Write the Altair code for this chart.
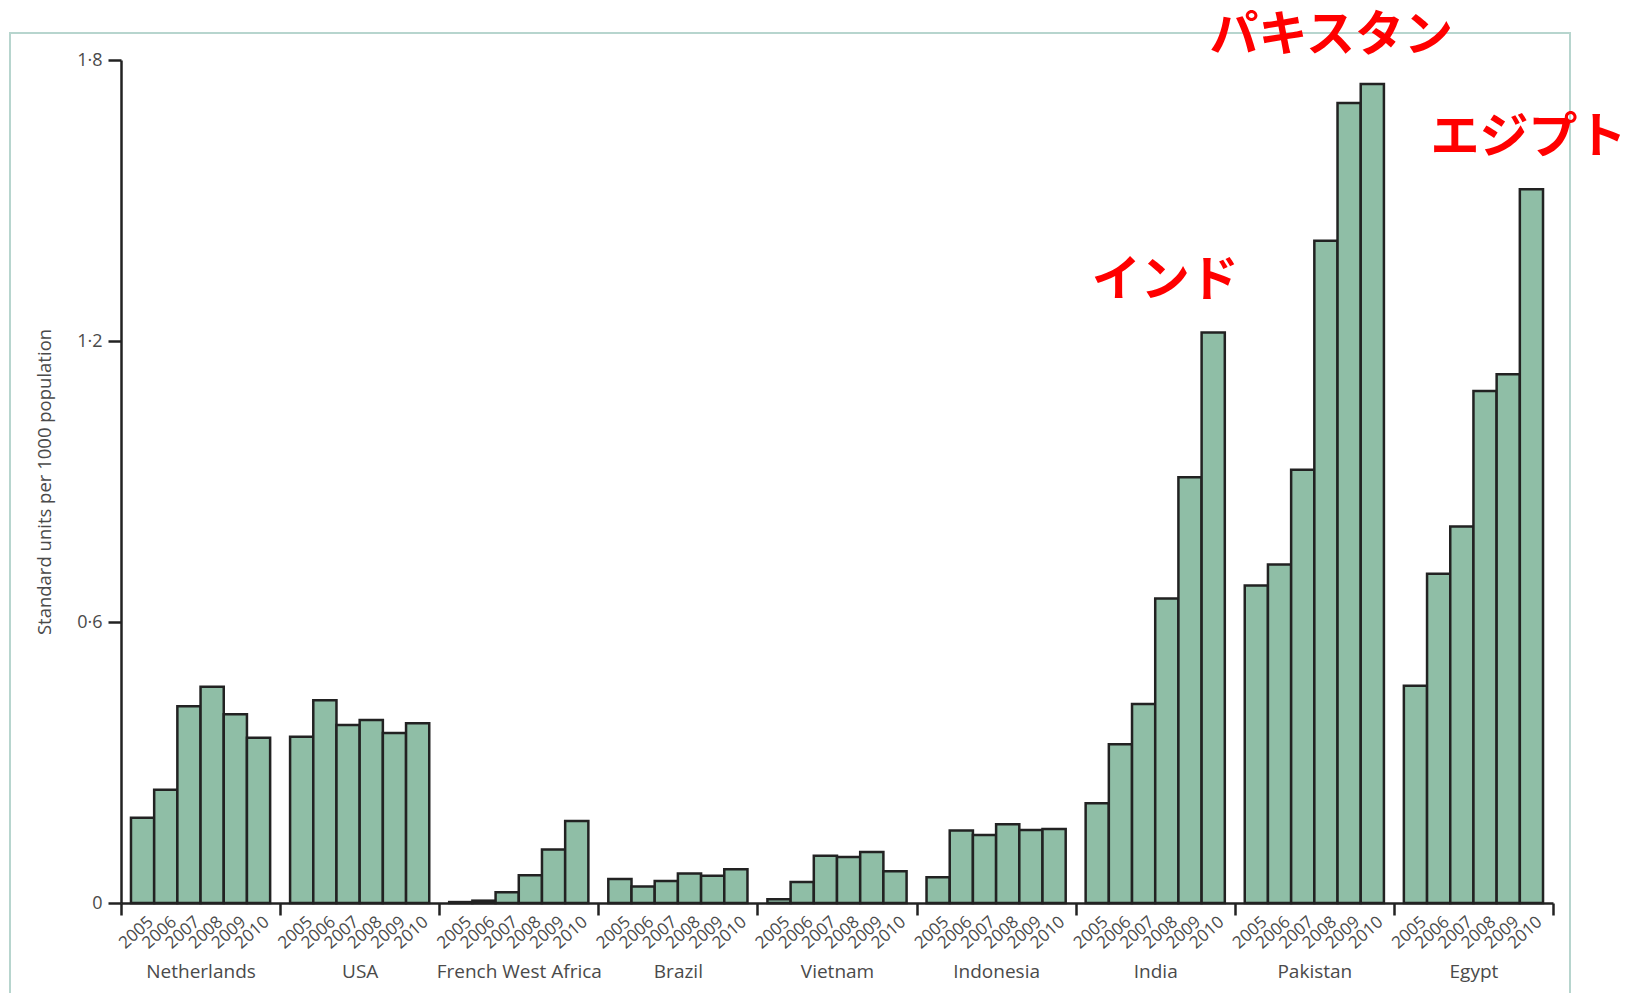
import altair as alt
import pandas as pd

# Antimicrobial consumption, standard units per 1000 population, 2005-2010
countries = ["Netherlands", "USA", "French West Africa", "Brazil", "Vietnam",
             "Indonesia", "India", "Pakistan", "Egypt"]
years = ["2005", "2006", "2007", "2008", "2009", "2010"]

netherlands = [0.182, 0.242, 0.420, 0.462, 0.403, 0.353]
usa = [0.355, 0.433, 0.380, 0.391, 0.363, 0.384]
french_west_africa = [0.002, 0.005, 0.023, 0.059, 0.114, 0.175]
brazil = [0.051, 0.035, 0.047, 0.063, 0.058, 0.072]
vietnam = [0.008, 0.045, 0.101, 0.098, 0.109, 0.068]
indonesia = [0.055, 0.155, 0.145, 0.168, 0.156, 0.158]
india = [0.213, 0.339, 0.425, 0.650, 0.909, 1.218]
pakistan = [0.678, 0.723, 0.925, 1.414, 1.708, 1.749]
egypt = [0.464, 0.703, 0.804, 1.093, 1.129, 1.524]

series = [netherlands, usa, french_west_africa, brazil, vietnam,
          indonesia, india, pakistan, egypt]

# Highlighted countries and their Japanese names
highlight_countries = ["India", "Pakistan", "Egypt"]
highlight_names = ["インド", "パキスタン", "エジプト"]

rows = []
for country, vals in zip(countries, series):
    for year, v in zip(years, vals):
        rows.append({"country": country, "year": year, "value": v})
df = pd.DataFrame(rows)

FONT = "Open Sans"
INK = "#222222"
TEXT = "#4a4a4a"
W, H = 1432, 843

x_enc = alt.X(
    "country:N", sort=countries,
    scale=alt.Scale(paddingInner=0, paddingOuter=0),
    axis=alt.Axis(
        title=None, labelAngle=0, tickBand="extent", tickSize=12,
        tickWidth=2.5, tickColor=INK, domainColor=INK, domainWidth=2.5,
        labelPadding=47, labelFont=FONT, labelFontSize=19, labelColor=TEXT,
    ),
)
xoff_enc = alt.XOffset(
    "year:N", sort=years,
    scale=alt.Scale(paddingInner=0, paddingOuter=0.43),
)

bars = alt.Chart(df).mark_bar(
    fill="#8FBEA6", stroke=INK, strokeWidth=2.5
).encode(
    x=x_enc,
    xOffset=xoff_enc,
    y=alt.Y(
        "value:Q",
        scale=alt.Scale(domain=[0, 1.8], nice=False, zero=True),
        axis=alt.Axis(
            values=[0, 0.6, 1.2, 1.8], grid=False, tickSize=13,
            tickWidth=2.5, tickColor=INK, domainColor=INK, domainWidth=2.5,
            format=".1~f",
            labelExpr="replace(datum.label, '.', '·')",
            labelFont=FONT, labelFontSize=18, labelColor=TEXT, labelPadding=6,
            title="Standard units per 1000 population",
            titleFont=FONT, titleFontSize=18.5, titleFontWeight="normal",
            titleColor=TEXT, titlePadding=22,
        ),
    ),
)

# Rotated year labels under each bar
year_labels = alt.Chart(df).mark_text(
    angle=318, align="right", baseline="middle", dx=-5, dy=18,
    font=FONT, fontSize=17, color=TEXT,
).encode(
    x=alt.X("country:N", sort=countries),
    xOffset=alt.XOffset("year:N", sort=years),
    y=alt.value(H),
    text="year:N",
)

# Red Japanese country names above the tallest bar of each highlighted group
notes = []
for country, name, shift, lift in zip(highlight_countries, highlight_names,
                                      [10, 17, 55], [-52, -48, -51]):
    notes.append(
        alt.Chart(df)
        .transform_filter(alt.datum.country == country)
        .transform_aggregate(top="max(value)", groupby=["country"])
        .mark_text(
            text=name, dx=shift, dy=lift, align="center", baseline="middle",
            font="Noto Sans CJK JP", fontWeight="bold", fontSize=49,
            color="#FF0000",
        )
        .encode(x=alt.X("country:N", sort=countries), y=alt.Y("top:Q"))
    )

# Thin outer frame around the figure
frame = alt.Chart(pd.DataFrame({"k": [0]})).mark_rect(
    filled=False, stroke="#b7d5ce", strokeWidth=2
).encode(
    x=alt.value(-111), x2=alt.value(1449),
    y=alt.value(-27), y2=alt.value(H + 120),
)

chart = alt.layer(frame, bars, year_labels, *notes).properties(
    width=W, height=H,
    autosize=alt.AutoSizeParams(type="none"),
    padding={"left": 121, "top": 60, "right": 75, "bottom": 90},
    background="white",
).configure_view(stroke=None)

chart.save("out.html", embed_options={"renderer": "svg", "actions": False})
